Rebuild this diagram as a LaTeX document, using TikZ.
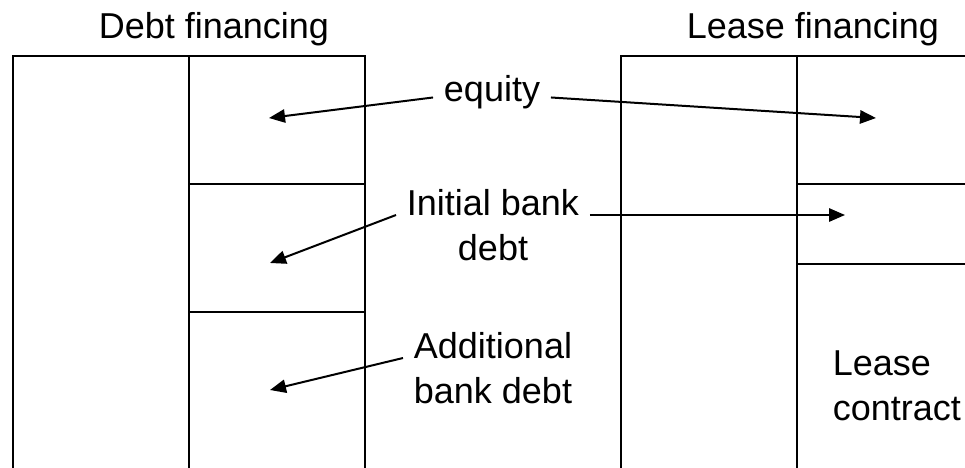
\documentclass[tikz,border=0pt]{standalone}
\usepackage{fontspec}
\setmainfont{Liberation Sans}
\usepackage{tikz}
\usetikzlibrary{arrows.meta, positioning}

\begin{document}
\begin{tikzpicture}[
    x=0.75pt, y=-0.75pt,
    frame/.style={line width=1.6pt},
    lbl/.style={font=\fontsize{27pt}{33.75pt}\selectfont, inner xsep=8pt, inner ysep=0pt, text height=20.25pt, text depth=6.75pt},
    arrow/.style={-{Triangle[length=12pt, width=10pt]}, line width=1.5pt}
]
\useasboundingbox (0,0) rectangle (965,468);

% --- Balance sheets ---
\begin{scope}
\clip (0,0) rectangle (965,468);
% debt financing
\draw[frame] (13,480) -- (13,56) -- (365,56) -- (365,480);
\draw[frame] (189,56) -- (189,480);
\draw[frame] (189,184) -- (365,184);
\draw[frame] (189,312) -- (365,312);
% lease financing
\draw[frame] (621,480) -- (621,56) -- (975,56);
\draw[frame] (797,56) -- (797,480);
\draw[frame] (797,184) -- (975,184);
\draw[frame] (797,264) -- (975,264);
\end{scope}

% --- Titles ---
\node[lbl, anchor=base] (debtT) at (214,38) {Debt financing};
\node[lbl, anchor=base] (leaseT) at (813,38) {Lease financing};

% --- Middle labels ---
\node[lbl, anchor=base] (equity) at (492,101) {equity};
\node[lbl, anchor=base] (initA) at (493,215) {Initial bank};
\node[lbl, below=6.75pt of initA] (initB) {debt};
\node[lbl, anchor=base] (addA) at (493,358) {Additional};
\node[lbl, below=6.75pt of addA] (addB) {bank debt};

% --- Lease contract ---
\node[lbl, anchor=base west] (leaseA) at (822,375) {Lease};
\node[lbl, anchor=base west] (leaseB) at (822,420) {contract};

% --- Arrow targets ---
\coordinate (eqDebt) at (269,118);
\coordinate (eqLease) at (876,118);
\coordinate (ibDebt) at (270,263);
\coordinate (ibLease) at (845,215);
\coordinate (abDebt) at (270,390);

% --- Connections ---
\draw[arrow] (equity.mid west) -- (eqDebt);
\draw[arrow] (equity.mid east) -- (eqLease);
\draw[arrow] (initA.base west) -- (ibDebt);
\draw[arrow] (initA.base east) -- (ibLease);
\draw[arrow] (addA.base west) -- (abDebt);

\end{tikzpicture}
\end{document}
